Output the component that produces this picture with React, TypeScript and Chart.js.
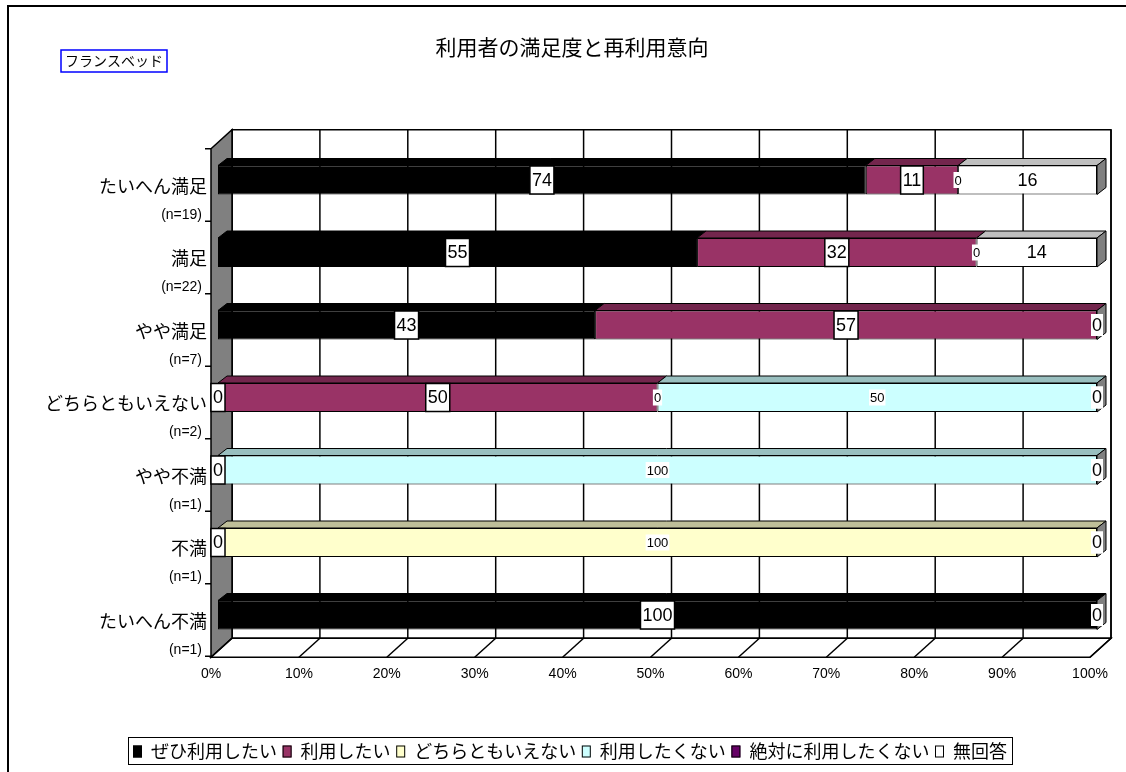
import React, { useEffect, useRef } from "react";
import { Chart, registerables } from "chart.js";

Chart.register(...registerables);

const TITLE = "利用者の満足度と再利用意向";
const BADGE = "フランスベッド";
const categories = ["たいへん満足", "満足", "やや満足", "どちらともいえない", "やや不満", "不満", "たいへん不満"];
const sampleSizes = ["(n=19)", "(n=22)", "(n=7)", "(n=2)", "(n=1)", "(n=1)", "(n=1)"];
const seriesNames = ["ぜひ利用したい", "利用したい", "どちらともいえない", "利用したくない", "絶対に利用したくない", "無回答"];
const seriesColors = ["#000000", "#993366", "#FFFFCC", "#CCFFFF", "#660066", "#FFFFFF"];
const wantVeryMuch = [73.7, 54.5, 42.9, 0, 0, 0, 100];
const want = [10.5, 31.8, 57.1, 50, null, null, null];
const neutral = [0, 0, null, 0, null, 100, null];
const notWant = [null, null, null, 50, 100, null, null];
const never = [null, null, 0, 0, 0, 0, 0];
const noAnswer = [15.8, 13.7, 0, 0, 0, 0, 0];
const xTicks = [0, 10, 20, 30, 40, 50, 60, 70, 80, 90, 100];

const seriesData = [wantVeryMuch, want, neutral, notWant, never, noAnswer];
// label style per series: "box" (framed, large), "small", "plain" (large, white bg)
const labelStyles = ["box", "box", "small", "small", "plain", "plain"];

const JP = "'Noto Sans CJK JP', 'Noto Sans', sans-serif";
const NUM = "'Liberation Sans', Arial, sans-serif";

function shade(hex: string, f: number) {
  const n = parseInt(hex.slice(1), 16);
  const r = Math.round(((n >> 16) & 255) * f);
  const g = Math.round(((n >> 8) & 255) * f);
  const b = Math.round((n & 255) * f);
  return `rgb(${r},${g},${b})`;
}

const DX = 9; // bar depth
const DY = 7;

const threeD = {
  id: "threeD",
  beforeDraw(chart: any) {
    const ctx = chart.ctx;
    ctx.save();
    ctx.fillStyle = "#ffffff";
    ctx.fillRect(0, 0, chart.width, chart.height);
    ctx.restore();
  },
  beforeDatasetsDraw(chart: any) {
    const ctx = chart.ctx;
    const ca = chart.chartArea;
    const xs = chart.scales.x;
    const ys = chart.scales.y;
    const backTop = ca.top - 14;
    const floorBack = ca.bottom - 13;
    const floorFront = ca.bottom + 6;
    const frontL = ca.left - 7;
    const backL = ca.left + 14;
    const backR = ca.right + 14;
    const frontR = ca.right - 7;
    ctx.save();

    // outer frame
    ctx.strokeStyle = "#000";
    ctx.lineWidth = 2;
    ctx.beginPath();
    ctx.moveTo(8, chart.height + 2);
    ctx.lineTo(8, 6);
    ctx.lineTo(chart.width + 2, 6);
    ctx.stroke();

    // title
    ctx.fillStyle = "#000";
    ctx.font = `21px ${JP}`;
    ctx.textAlign = "center";
    ctx.textBaseline = "middle";
    ctx.fillText(TITLE, 572, 47);

    // badge
    ctx.font = `14px ${JP}`;
    const bw = ctx.measureText(BADGE).width + 8;
    ctx.strokeStyle = "#0000FF";
    ctx.lineWidth = 1.5;
    ctx.strokeRect(61, 50, bw, 22);
    ctx.fillStyle = "#000";
    ctx.fillText(BADGE, 61 + bw / 2, 61);

    // back wall
    ctx.lineWidth = 1.5;
    ctx.strokeStyle = "#000";
    ctx.fillStyle = "#fff";
    ctx.fillRect(backL, backTop, backR - backL, floorBack - backTop);
    ctx.strokeRect(backL, backTop, backR - backL, floorBack - backTop);
    // gridlines on back wall
    xTicks.forEach((t) => {
      const x = xs.getPixelForValue(t) + 14;
      ctx.beginPath();
      ctx.moveTo(x, backTop);
      ctx.lineTo(x, floorBack);
      ctx.stroke();
    });

    // left wall
    ctx.fillStyle = "#808080";
    ctx.beginPath();
    ctx.moveTo(frontL, backTop + 19);
    ctx.lineTo(backL, backTop);
    ctx.lineTo(backL, floorBack);
    ctx.lineTo(frontL, floorFront);
    ctx.closePath();
    ctx.fill();
    ctx.stroke();

    // floor
    ctx.fillStyle = "#fff";
    ctx.beginPath();
    ctx.moveTo(frontL, floorFront);
    ctx.lineTo(backL, floorBack);
    ctx.lineTo(backR, floorBack);
    ctx.lineTo(frontR, floorFront);
    ctx.closePath();
    ctx.fill();
    ctx.stroke();
    xTicks.forEach((t) => {
      const x = xs.getPixelForValue(t);
      ctx.beginPath();
      ctx.moveTo(x + 14, floorBack);
      ctx.lineTo(x - 7, floorFront);
      ctx.stroke();
    });

    // left wall ticks
    for (let i = 0; i <= categories.length; i++) {
      const y = ca.top + (i * (ca.bottom - ca.top)) / categories.length + 5;
      ctx.beginPath();
      ctx.moveTo(frontL - 6, y);
      ctx.lineTo(frontL, y);
      ctx.stroke();
    }

    // x tick labels
    ctx.fillStyle = "#000";
    ctx.font = `14px ${NUM}`;
    ctx.textAlign = "center";
    ctx.textBaseline = "middle";
    xTicks.forEach((t) => {
      ctx.fillText(`${t}%`, xs.getPixelForValue(t) - 7, 674);
    });

    // y labels
    categories.forEach((c, i) => {
      const y = ys.getPixelForValue(i);
      ctx.textAlign = "right";
      ctx.font = `18px ${JP}`;
      ctx.fillText(c, frontL - 4, y + 6);
      ctx.font = `14px ${NUM}`;
      ctx.fillText(sampleSizes[i], frontL - 9, y + 35);
    });

    // legend
    const lx0 = 128, ly0 = 737, lx1 = 1012, ly1 = 764;
    ctx.lineWidth = 1;
    ctx.strokeStyle = "#000";
    ctx.strokeRect(lx0 + 0.5, ly0 + 0.5, lx1 - lx0, ly1 - ly0);
    ctx.font = `18px ${JP}`;
    ctx.textAlign = "left";
    const markW = 9, markGap = 9;
    const widths = seriesNames.map((s) => ctx.measureText(s).width);
    const used = widths.reduce((a, b) => a + b, 0) + seriesNames.length * (markW + markGap);
    const inner = lx1 - lx0 - 10;
    const spacing = (inner - used) / (seriesNames.length - 1);
    let cx = lx0 + 5;
    const ly = (ly0 + ly1) / 2 + 1;
    seriesNames.forEach((s, i) => {
      ctx.fillStyle = seriesColors[i];
      ctx.fillRect(cx, ly - 6, markW, 12);
      ctx.strokeRect(cx + 0.5, ly - 5.5, markW - 1, 11);
      ctx.fillStyle = "#000";
      ctx.fillText(s, cx + markW + markGap, ly);
      cx += markW + markGap + widths[i] + spacing;
    });

    ctx.restore();
  },
  afterDatasetsDraw(chart: any) {
    const ctx = chart.ctx;
    ctx.save();
    ctx.lineWidth = 1;
    ctx.strokeStyle = "#000";
    const rowEnd: { x: number; top: number; bottom: number }[] = [];
    chart.data.datasets.forEach((ds: any, di: number) => {
      const meta = chart.getDatasetMeta(di);
      meta.data.forEach((el: any, i: number) => {
        const v = ds.data[i];
        if (v == null || v === 0) return;
        const { x, y, base, height } = el.getProps(["x", "y", "base", "height"], true);
        const top = y - height / 2;
        const bottom = y + height / 2;
        const x1 = Math.min(x, base);
        const x2 = Math.max(x, base);
        ctx.fillStyle = shade(seriesColors[di], 0.75);
        ctx.beginPath();
        ctx.moveTo(x1, top);
        ctx.lineTo(x1 + DX, top - DY);
        ctx.lineTo(x2 + DX, top - DY);
        ctx.lineTo(x2, top);
        ctx.closePath();
        ctx.fill();
        ctx.stroke();
        if (!rowEnd[i] || rowEnd[i].x < x2) rowEnd[i] = { x: x2, top, bottom };
      });
    });
    rowEnd.forEach((r) => {
      if (!r) return;
      ctx.fillStyle = "#808080";
      ctx.beginPath();
      ctx.moveTo(r.x, r.top);
      ctx.lineTo(r.x + DX, r.top - DY);
      ctx.lineTo(r.x + DX, r.bottom - DY);
      ctx.lineTo(r.x, r.bottom);
      ctx.closePath();
      ctx.fill();
      ctx.stroke();
    });

    // data labels
    ctx.textAlign = "center";
    ctx.textBaseline = "middle";
    chart.data.datasets.forEach((ds: any, di: number) => {
      const meta = chart.getDatasetMeta(di);
      const style = labelStyles[di];
      meta.data.forEach((el: any, i: number) => {
        const v = ds.data[i];
        if (v == null) return;
        const { x, y, base } = el.getProps(["x", "y", "base"], true);
        const cx = (x + base) / 2;
        const txt = String(Math.round(v));
        if (style === "small") {
          ctx.font = `13px ${NUM}`;
          const w = ctx.measureText(txt).width;
          ctx.fillStyle = "#fff";
          ctx.fillRect(cx - w / 2 - 1, y - 8, w + 2, 16);
          ctx.fillStyle = "#000";
          ctx.fillText(txt, cx, y + 1);
        } else if (style === "box") {
          ctx.font = `18px ${NUM}`;
          const w = ctx.measureText(txt).width + 4;
          ctx.fillStyle = "#fff";
          ctx.fillRect(cx - w / 2, y - 14, w, 28);
          ctx.lineWidth = 1.5;
          ctx.strokeRect(cx - w / 2, y - 14, w, 28);
          ctx.fillStyle = "#000";
          ctx.fillText(txt, cx, y + 1);
        } else {
          ctx.font = `18px ${NUM}`;
          const w = ctx.measureText(txt).width;
          ctx.fillStyle = "#fff";
          ctx.fillRect(cx - w / 2 - 1, y - 11, w + 2, 22);
          ctx.fillStyle = "#000";
          ctx.fillText(txt, cx, y + 1);
        }
      });
    });
    ctx.restore();
  },
};

export default function App() {
  const ref = useRef<HTMLCanvasElement>(null);
  useEffect(() => {
    const chart = new Chart(ref.current as HTMLCanvasElement, {
      type: "bar",
      data: {
        labels: categories,
        datasets: seriesData.map((d, i) => ({
          label: seriesNames[i],
          data: d,
          backgroundColor: seriesColors[i],
          borderColor: "#000000",
          borderWidth: (c: any) => (c.raw ? 1 : 0),
          borderSkipped: false,
          barPercentage: 0.4,
          categoryPercentage: 1,
        })),
      } as any,
      options: {
        indexAxis: "y",
        responsive: false,
        animation: false,
        devicePixelRatio: 1,
        layout: { padding: { left: 218, right: 29, top: 143.75, bottom: 120.75 } },
        scales: {
          x: { stacked: true, min: 0, max: 100, display: false },
          y: { stacked: true, display: false },
        },
        plugins: {
          legend: { display: false },
          tooltip: { enabled: false },
          title: { display: false },
        },
      } as any,
      plugins: [threeD],
    });
    return () => chart.destroy();
  }, []);
  return (
    <div style={{ position: "fixed", left: 0, top: 0, width: 1126, height: 772, background: "#fff" }}>
      <canvas ref={ref} width={1126} height={772} style={{ display: "block", width: 1126, height: 772 }} />
    </div>
  );
}
